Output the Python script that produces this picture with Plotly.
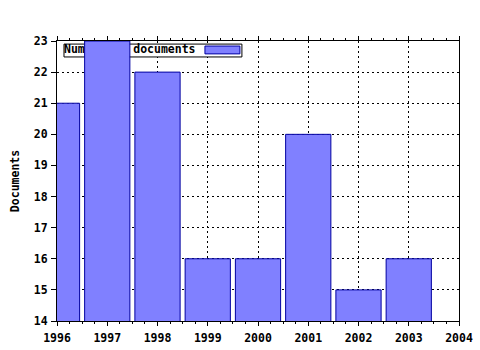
import plotly.graph_objects as go

years = [1996, 1997, 1998, 1999, 2000, 2001, 2002, 2003]
documents = [21, 23, 22, 16, 16, 20, 15, 16]
series_name = "Number of documents"
y_title = "Documents"

FONT = dict(family="DejaVu Sans Mono", size=11.5, color="black", weight="bold")
BAR_FILL = "#8080ff"
BAR_EDGE = "#0000a0"

fig = go.Figure()

# Legend drawn on the base subplot so that bars (on overlay subplot) cover it
fig.add_trace(go.Scatter(
    x=[0.0174, 0.460, 0.460, 0.0174, 0.0174],
    y=[0.943, 0.943, 0.989, 0.989, 0.943],
    mode="lines", fill="toself", fillcolor="white",
    line=dict(color="black", width=1), hoverinfo="skip", showlegend=False,
    xaxis="x", yaxis="y"))
fig.add_trace(go.Scatter(
    x=[0.368, 0.455, 0.455, 0.368, 0.368],
    y=[0.954, 0.954, 0.982, 0.982, 0.954],
    mode="lines", fill="toself", fillcolor=BAR_FILL,
    line=dict(color=BAR_EDGE, width=1), hoverinfo="skip", showlegend=False,
    xaxis="x", yaxis="y"))
fig.add_trace(go.Scatter(
    x=[0.0174], y=[0.966], mode="text", text=[series_name],
    textposition="middle right", textfont=FONT,
    hoverinfo="skip", showlegend=False, xaxis="x", yaxis="y"))

fig.add_trace(go.Bar(
    x=years, y=documents, width=0.9, name=series_name,
    marker=dict(color=BAR_FILL, line=dict(color=BAR_EDGE, width=1)),
    showlegend=False, xaxis="x2", yaxis="y2"))

fig.update_layout(
    width=480, height=350,
    margin=dict(l=57, r=21, t=41, b=29, autoexpand=False),
    paper_bgcolor="white", plot_bgcolor="white",
    showlegend=False,
    xaxis=dict(visible=False, range=[0, 1], fixedrange=True, automargin=False),
    yaxis=dict(visible=False, range=[0, 1], fixedrange=True, automargin=False),
    xaxis2=dict(
        overlaying="x", range=[1996, 2004], dtick=1, tick0=1996, automargin=False,
        showline=True, linecolor="black", linewidth=1, mirror="allticks",
        ticks="outside", ticklen=4, tickcolor="black", tickwidth=1,
        minor=dict(dtick=0.25, ticks="outside", ticklen=2, tickcolor="black", showgrid=False),
        showgrid=True, gridcolor="black", gridwidth=1, griddash="2px,3px",
        zeroline=False, tickfont=FONT, ticklabelstandoff=2),
    yaxis2=dict(
        overlaying="y", range=[14, 23], dtick=1, automargin=False,
        showline=True, linecolor="black", linewidth=1, mirror=True,
        ticks="outside", ticklen=5, tickcolor="black", tickwidth=1,
        showgrid=True, gridcolor="black", gridwidth=1, griddash="2px,3px",
        zeroline=False, tickfont=FONT, ticklabelstandoff=1,
        title=dict(text=y_title, font=FONT, standoff=11)),
)

fig.write_html("out.html")
